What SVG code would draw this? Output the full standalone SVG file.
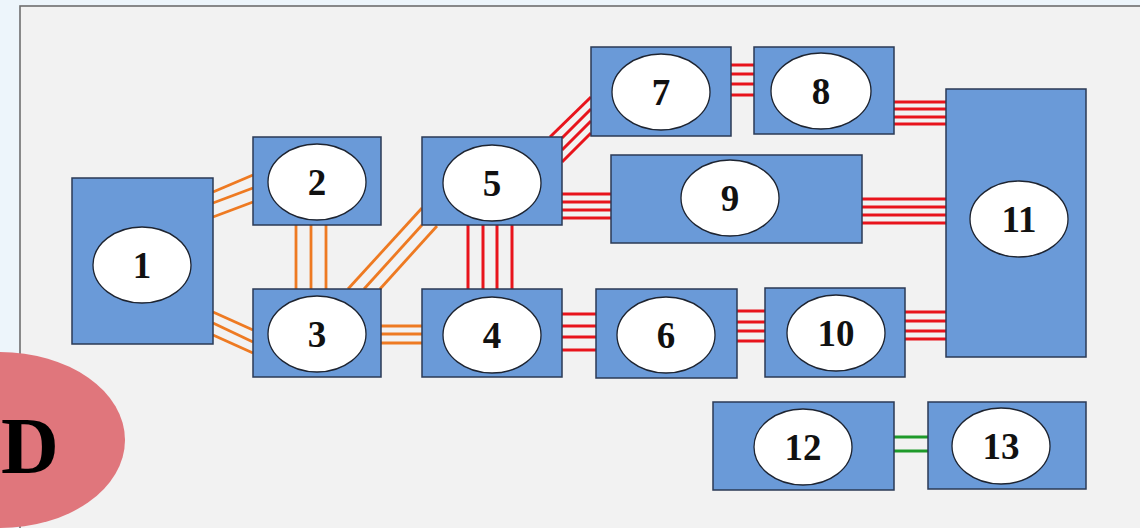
<svg xmlns="http://www.w3.org/2000/svg" width="1140" height="528" viewBox="0 0 1140 528">
  <style>
    .box { fill: #6A9AD8; stroke: #2B3A55; stroke-width: 1.5; }
    .oval { fill: #FFFFFF; stroke: #1E2430; stroke-width: 1.3; }
    .num { font-family: "Liberation Serif", "Times New Roman", serif; font-weight: bold; font-size: 37px; fill: #111; text-anchor: middle; }
    .org line { stroke: #EE7A22; stroke-width: 2.8; }
    .red line { stroke: #E8141C; stroke-width: 3; }
    .grn line { stroke: #1E9A2A; stroke-width: 2.8; }
  </style>

  <!-- page background and panel -->
  <rect x="0" y="0" width="1140" height="528" fill="#EDF5FB"/>
  <rect x="20" y="6" width="1140" height="540" fill="#F2F2F2" stroke="#6E6E6E" stroke-width="1.6"/>

  <!-- links between blocks -->
  <g id="connectors">
    <g class="org">
      <!-- 1 - 2 -->
      <line x1="213" y1="192" x2="253" y2="175"/>
      <line x1="213" y1="203" x2="253" y2="188"/>
      <line x1="213" y1="217" x2="253" y2="202"/>
      <!-- 1 - 3 -->
      <line x1="213" y1="312" x2="253" y2="330"/>
      <line x1="213" y1="323" x2="253" y2="342"/>
      <line x1="213" y1="335" x2="253" y2="353"/>
      <!-- 2 - 3 -->
      <line x1="296" y1="225" x2="296" y2="289"/>
      <line x1="311" y1="225" x2="311" y2="289"/>
      <line x1="326" y1="225" x2="326" y2="289"/>
      <!-- 3 - 5 -->
      <line x1="348" y1="289" x2="422" y2="208"/>
      <line x1="364" y1="289" x2="422" y2="225"/>
      <line x1="380" y1="289" x2="437" y2="226"/>
      <!-- 3 - 4 -->
      <line x1="381" y1="326" x2="422" y2="326"/>
      <line x1="381" y1="334" x2="422" y2="334"/>
      <line x1="381" y1="343" x2="422" y2="343"/>
    </g>
    <g class="red">
      <!-- 4 - 5 -->
      <line x1="468" y1="225" x2="468" y2="289"/>
      <line x1="483" y1="225" x2="483" y2="289"/>
      <line x1="497" y1="225" x2="497" y2="289"/>
      <line x1="512" y1="225" x2="512" y2="289"/>
      <!-- 5 - 7 -->
      <line x1="591" y1="97" x2="550" y2="137"/>
      <line x1="591" y1="109" x2="562" y2="138"/>
      <line x1="591" y1="121" x2="562" y2="150"/>
      <line x1="591" y1="133" x2="562" y2="162"/>
      <!-- 5 - 9 -->
      <line x1="562" y1="194" x2="611" y2="194"/>
      <line x1="562" y1="202" x2="611" y2="202"/>
      <line x1="562" y1="210" x2="611" y2="210"/>
      <line x1="562" y1="218" x2="611" y2="218"/>
      <!-- 7 - 8 -->
      <line x1="731" y1="65" x2="754" y2="65"/>
      <line x1="731" y1="74" x2="754" y2="74"/>
      <line x1="731" y1="84" x2="754" y2="84"/>
      <line x1="731" y1="95" x2="754" y2="95"/>
      <!-- 8 - 11 -->
      <line x1="893" y1="102" x2="946" y2="102"/>
      <line x1="893" y1="109" x2="946" y2="109"/>
      <line x1="893" y1="117" x2="946" y2="117"/>
      <line x1="893" y1="124" x2="946" y2="124"/>
      <!-- 9 - 11 -->
      <line x1="862" y1="199" x2="946" y2="199"/>
      <line x1="862" y1="207" x2="946" y2="207"/>
      <line x1="862" y1="215" x2="946" y2="215"/>
      <line x1="862" y1="223" x2="946" y2="223"/>
      <!-- 4 - 6 -->
      <line x1="562" y1="314" x2="596" y2="314"/>
      <line x1="562" y1="326" x2="596" y2="326"/>
      <line x1="562" y1="337" x2="596" y2="337"/>
      <line x1="562" y1="350" x2="596" y2="350"/>
      <!-- 6 - 10 -->
      <line x1="737" y1="311" x2="765" y2="311"/>
      <line x1="737" y1="322" x2="765" y2="322"/>
      <line x1="737" y1="331" x2="765" y2="331"/>
      <line x1="737" y1="341" x2="765" y2="341"/>
      <!-- 10 - 11 -->
      <line x1="905" y1="312" x2="946" y2="312"/>
      <line x1="905" y1="321" x2="946" y2="321"/>
      <line x1="905" y1="331" x2="946" y2="331"/>
      <line x1="905" y1="339" x2="946" y2="339"/>
    </g>
    <g class="grn">
      <!-- 12 - 13 -->
      <line x1="894" y1="437" x2="928" y2="437"/>
      <line x1="894" y1="451" x2="928" y2="451"/>
    </g>
  </g>

  <!-- blocks -->
  <g id="node1"><rect class="box" x="72" y="178" width="141" height="166"/><ellipse class="oval" cx="142" cy="265" rx="49" ry="38"/><text class="num" x="142" y="278">1</text></g>
  <g id="node2"><rect class="box" x="253" y="137" width="128" height="88"/><ellipse class="oval" cx="317" cy="182" rx="49" ry="38"/><text class="num" x="317" y="195">2</text></g>
  <g id="node3"><rect class="box" x="253" y="289" width="128" height="88"/><ellipse class="oval" cx="317" cy="334" rx="49" ry="38"/><text class="num" x="317" y="347">3</text></g>
  <g id="node4"><rect class="box" x="422" y="289" width="140" height="88"/><ellipse class="oval" cx="492" cy="335" rx="49" ry="38"/><text class="num" x="492" y="348">4</text></g>
  <g id="node5"><rect class="box" x="422" y="137" width="140" height="88"/><ellipse class="oval" cx="492" cy="183" rx="49" ry="38"/><text class="num" x="492" y="196">5</text></g>
  <g id="node6"><rect class="box" x="596" y="289" width="141" height="89"/><ellipse class="oval" cx="666" cy="335" rx="49" ry="38"/><text class="num" x="666" y="348">6</text></g>
  <g id="node7"><rect class="box" x="591" y="47" width="140" height="89"/><ellipse class="oval" cx="661" cy="92" rx="49" ry="38"/><text class="num" x="661" y="105">7</text></g>
  <g id="node8"><rect class="box" x="754" y="47" width="140" height="87"/><ellipse class="oval" cx="821" cy="91" rx="50" ry="38"/><text class="num" x="821" y="104">8</text></g>
  <g id="node9"><rect class="box" x="611" y="155" width="251" height="88"/><ellipse class="oval" cx="730" cy="198" rx="49" ry="38"/><text class="num" x="730" y="211">9</text></g>
  <g id="node10"><rect class="box" x="765" y="288" width="140" height="89"/><ellipse class="oval" cx="836" cy="333" rx="49" ry="38"/><text class="num" x="836" y="346">10</text></g>
  <g id="node11"><rect class="box" x="946" y="89" width="140" height="268"/><ellipse class="oval" cx="1019" cy="219" rx="49" ry="38"/><text class="num" x="1019" y="232">11</text></g>
  <g id="node12"><rect class="box" x="713" y="402" width="181" height="88"/><ellipse class="oval" cx="803" cy="447" rx="49" ry="38"/><text class="num" x="803" y="460">12</text></g>
  <g id="node13"><rect class="box" x="928" y="402" width="158" height="87"/><ellipse class="oval" cx="1001" cy="446" rx="49" ry="38"/><text class="num" x="1001" y="459">13</text></g>

  <!-- panel tag -->
  <g id="tag">
    <ellipse cx="0" cy="440" rx="125" ry="88" fill="#E0767C"/>
    <text x="1" y="473" font-family="Liberation Serif, Times New Roman, serif" font-weight="bold" font-size="80" fill="#000">D</text>
  </g>
</svg>
